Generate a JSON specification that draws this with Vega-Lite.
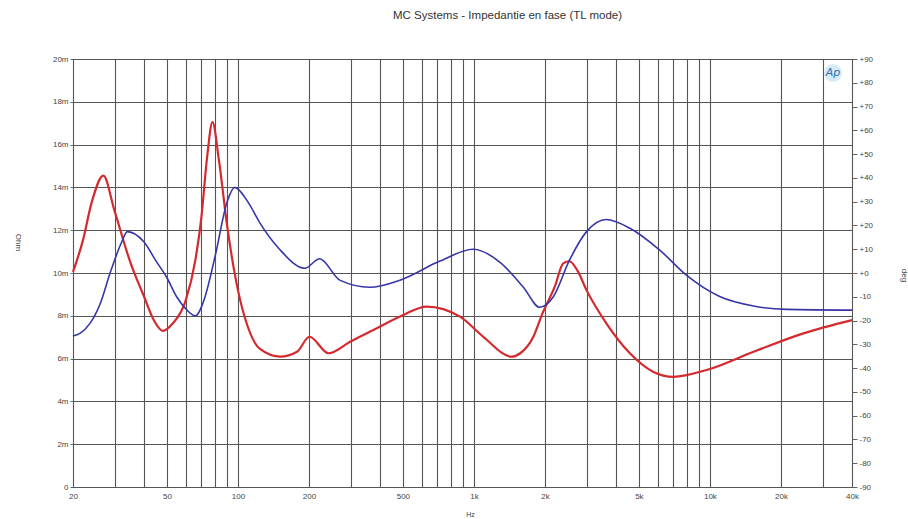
{
  "$schema": "https://vega.github.io/schema/vega-lite/v6.json",
  "width": 779,
  "height": 428,
  "autosize": {"type": "none"},
  "padding": {"left": 73, "top": 59, "right": 56, "bottom": 32},
  "background": "white",
  "config": {
    "font": "Liberation Sans",
    "view": {"stroke": "#444", "strokeWidth": 1},
    "axis": {"labelColor": "#444", "labelFontSize": 8, "titleColor": "#444", "titleFontSize": 8, "titleFontWeight": "normal", "tickColor": "#666", "domainColor": "#444"}
  },
  "title": {"text": "MC Systems - Impedantie en fase (TL mode)", "fontSize": 11.5, "fontWeight": "normal", "color": "#333", "offset": 34, "dx": 45},
  "datasets": {
    "imp": [
      {"f": 20, "ohm": 10.05}, {"f": 22, "ohm": 11.5}, {"f": 24, "ohm": 13.3}, {"f": 26.9, "ohm": 14.55},
      {"f": 30, "ohm": 12.9}, {"f": 35, "ohm": 10.5}, {"f": 40, "ohm": 8.9}, {"f": 44, "ohm": 7.8},
      {"f": 48, "ohm": 7.3}, {"f": 53, "ohm": 7.65}, {"f": 60, "ohm": 8.7}, {"f": 66, "ohm": 10.6},
      {"f": 70, "ohm": 12.6}, {"f": 74, "ohm": 15.4}, {"f": 78, "ohm": 17.05}, {"f": 83, "ohm": 15.3},
      {"f": 90, "ohm": 12.2}, {"f": 100, "ohm": 9.2}, {"f": 110, "ohm": 7.5}, {"f": 124, "ohm": 6.45},
      {"f": 151, "ohm": 6.09}, {"f": 178, "ohm": 6.32}, {"f": 201, "ohm": 7.02}, {"f": 242, "ohm": 6.25},
      {"f": 300, "ohm": 6.8}, {"f": 375, "ohm": 7.34}, {"f": 502, "ohm": 8.04}, {"f": 630, "ohm": 8.43},
      {"f": 873, "ohm": 7.96}, {"f": 1096, "ohm": 7.02}, {"f": 1446, "ohm": 6.09}, {"f": 1572, "ohm": 6.25},
      {"f": 1786, "ohm": 7.02}, {"f": 1950, "ohm": 8.1}, {"f": 2200, "ohm": 9.36}, {"f": 2390, "ohm": 10.45},
      {"f": 2540, "ohm": 10.55}, {"f": 2750, "ohm": 10.1}, {"f": 3000, "ohm": 9.2}, {"f": 3640, "ohm": 7.65},
      {"f": 4580, "ohm": 6.25}, {"f": 5740, "ohm": 5.39}, {"f": 7000, "ohm": 5.15}, {"f": 9680, "ohm": 5.47},
      {"f": 15300, "ohm": 6.32}, {"f": 24900, "ohm": 7.18}, {"f": 40000, "ohm": 7.8}
    ],
    "phase": [
      {"f": 20, "deg": -26.5}, {"f": 21.4, "deg": -25.4}, {"f": 23.6, "deg": -21.2}, {"f": 26.1, "deg": -12.8},
      {"f": 28.7, "deg": -0.1}, {"f": 32, "deg": 12.5}, {"f": 34, "deg": 17.4}, {"f": 40, "deg": 13},
      {"f": 45, "deg": 5}, {"f": 50, "deg": -2}, {"f": 55, "deg": -10}, {"f": 60, "deg": -15}, {"f": 66, "deg": -18},
      {"f": 72, "deg": -11}, {"f": 80, "deg": 7}, {"f": 90, "deg": 30}, {"f": 97, "deg": 36},
      {"f": 110, "deg": 30}, {"f": 124, "deg": 21}, {"f": 150, "deg": 10}, {"f": 192, "deg": 2},
      {"f": 222, "deg": 6}, {"f": 270, "deg": -3}, {"f": 362, "deg": -6}, {"f": 486, "deg": -3},
      {"f": 718, "deg": 5}, {"f": 992, "deg": 10}, {"f": 1290, "deg": 4.5}, {"f": 1620, "deg": -6},
      {"f": 1900, "deg": -14.4}, {"f": 2170, "deg": -10}, {"f": 2540, "deg": 5.4}, {"f": 3000, "deg": 17.4},
      {"f": 3640, "deg": 22.5}, {"f": 4580, "deg": 18.8}, {"f": 6130, "deg": 9.6}, {"f": 7950, "deg": -0.9},
      {"f": 11000, "deg": -9.9}, {"f": 15300, "deg": -13.9}, {"f": 21200, "deg": -15.3}, {"f": 40000, "deg": -15.6}
    ],
    "logo": [{"f": 33200, "ohm": 19.35, "label": "Ap"}]
  },
  "layer": [
    {
      "data": {"name": "imp"},
      "mark": {"type": "line", "color": "#d42a2e", "strokeWidth": 2.2, "interpolate": "monotone"},
      "encoding": {
        "x": {
          "field": "f", "type": "quantitative",
          "scale": {"type": "log", "domain": [20, 40000], "nice": false},
          "axis": {
            "values": [20, 30, 40, 50, 60, 70, 80, 90, 100, 200, 300, 400, 500, 600, 700, 800, 900, 1000, 2000, 3000, 4000, 5000, 6000, 7000, 8000, 9000, 10000, 20000, 30000, 40000],
            "labelExpr": "indexof([20,50,100,200,500,1000,2000,5000,10000,20000,40000], datum.value) >= 0 ? (datum.value >= 1000 ? (datum.value / 1000) + 'k' : datum.value + '') : ''",
            "grid": true, "gridColor": "#555", "gridWidth": 1.1, "gridOpacity": 1,
            "domain": false, "ticks": false, "labelPadding": 5, "labelFlush": false,
            "title": "Hz", "titleX": 397, "titleY": 23, "titleFontSize": 7
          }
        },
        "y": {
          "field": "ohm", "type": "quantitative",
          "scale": {"domain": [0, 20], "nice": false},
          "axis": {
            "values": [0, 2, 4, 6, 8, 10, 12, 14, 16, 18, 20],
            "labelExpr": "datum.value == 0 ? '0' : datum.value + 'm'",
            "grid": true, "gridColor": "#555", "gridWidth": 1.1, "gridOpacity": 1,
            "domain": false, "tickSize": 3, "labelPadding": 2,
            "title": "Ohm", "titleAngle": 90, "titleX": -60, "titleY": 183
          }
        }
      }
    },
    {
      "data": {"name": "phase"},
      "mark": {"type": "line", "color": "#3636a8", "strokeWidth": 1.6, "interpolate": "monotone"},
      "encoding": {
        "x": {"field": "f", "type": "quantitative"},
        "y": {
          "field": "deg", "type": "quantitative",
          "scale": {"domain": [-90, 90], "nice": false},
          "axis": {
            "orient": "right",
            "values": [-90, -80, -70, -60, -50, -40, -30, -20, -10, 0, 10, 20, 30, 40, 50, 60, 70, 80, 90],
            "labelExpr": "datum.value >= 0 ? '+' + datum.value : datum.value + ''",
            "grid": false, "domain": false, "tickSize": 5, "labelPadding": 2,
            "title": "deg", "titleAngle": 90, "titleX": 47, "titleY": 216
          }
        }
      }
    },
    {
      "data": {"name": "logo"},
      "mark": {"type": "point", "filled": true, "color": "#d6ebf7", "size": 320, "opacity": 1},
      "encoding": {
        "x": {"field": "f", "type": "quantitative"},
        "y": {"field": "ohm", "type": "quantitative", "scale": {"domain": [0, 20], "nice": false}, "axis": null}
      }
    },
    {
      "data": {"name": "logo"},
      "mark": {"type": "text", "color": "#2f6fb0", "fontSize": 11, "fontStyle": "italic", "font": "DejaVu Sans"},
      "encoding": {
        "x": {"field": "f", "type": "quantitative"},
        "y": {"field": "ohm", "type": "quantitative", "scale": {"domain": [0, 20], "nice": false}, "axis": null},
        "text": {"field": "label"}
      }
    }
  ],
  "resolve": {"scale": {"y": "independent"}}
}
